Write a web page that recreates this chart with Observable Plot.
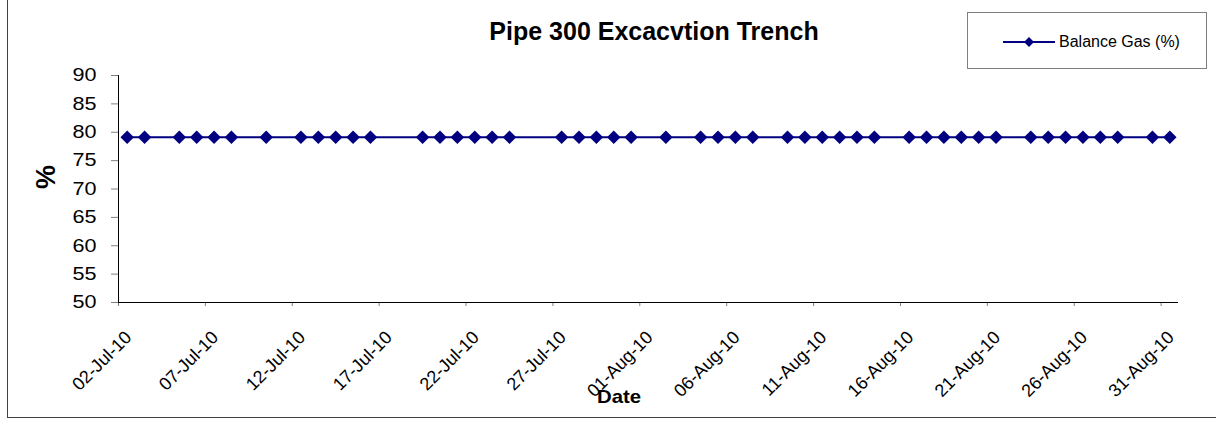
<!DOCTYPE html>
<html>
<head>
<meta charset="utf-8">
<script src="https://cdn.jsdelivr.net/npm/d3@7"></script>
<script src="https://cdn.jsdelivr.net/npm/@observablehq/plot@0.6"></script>
<style>
  html, body { margin: 0; padding: 0; background: #fff; }
  #wrap { position: relative; width: 1216px; height: 429px; overflow: hidden; font-family: "Liberation Sans", Arial, sans-serif; }
  #frame { position: absolute; left: 7px; top: -5px; width: 1230px; height: 423px; border: 1px solid #404040; box-sizing: border-box; }
  #title { position: absolute; left: 654px; top: 16px; transform: translateX(-50%); white-space: nowrap; font-weight: bold; font-size: 25px; line-height: 30px; }
  #legend { position: absolute; left: 967px; top: 12px; width: 240px; height: 57px; border: 1px solid #808080; box-sizing: border-box; background: #fff; }
  #legend svg { position: absolute; left: 34px; top: 20px; }
  #legend span { position: absolute; left: 91px; top: 19px; font-size: 16px; line-height: 20px; white-space: nowrap; }
  #ylab { position: absolute; left: 46px; top: 177px; transform: translate(-50%, -50%) rotate(-90deg); font-weight: bold; font-size: 27px; line-height: 30px; }
  #xlab { position: absolute; left: 619px; top: 386px; transform: translateX(-50%) scaleX(1.07); font-weight: bold; font-size: 19px; line-height: 22px; }
  #chart { position: absolute; left: 0; top: 0; }
  #chart g[aria-label="x-axis tick"], #chart g[aria-label="y-axis tick"] { stroke: #808080; }
  #chart g[aria-label="y-axis tick label"] { font-size: 18px; fill: #000; }
</style>
</head>
<body>
<div id="wrap">
  <div id="frame"></div>
  <div id="chart"></div>
  <div id="title">Pipe 300 Excacvtion Trench</div>
  <div id="legend"></div>
  <div id="ylab">%</div>
  <div id="xlab">Date</div>
</div>
<script>
const dates = [
  "2010-07-02","2010-07-03","2010-07-05","2010-07-06","2010-07-07","2010-07-08","2010-07-10",
  "2010-07-12","2010-07-13","2010-07-14","2010-07-15","2010-07-16","2010-07-19","2010-07-20",
  "2010-07-21","2010-07-22","2010-07-23","2010-07-24","2010-07-27","2010-07-28","2010-07-29",
  "2010-07-30","2010-07-31","2010-08-02","2010-08-04","2010-08-05","2010-08-06","2010-08-07",
  "2010-08-09","2010-08-10","2010-08-11","2010-08-12","2010-08-13","2010-08-14","2010-08-16",
  "2010-08-17","2010-08-18","2010-08-19","2010-08-20","2010-08-21","2010-08-23","2010-08-24",
  "2010-08-25","2010-08-26","2010-08-27","2010-08-28","2010-08-30","2010-08-31"
];
const balanceGas = dates.map(() => 79.1);
const seriesName = "Balance Gas (%)";
const xTicks = ["2010-07-02","2010-07-07","2010-07-12","2010-07-17","2010-07-22","2010-07-27",
  "2010-08-01","2010-08-06","2010-08-11","2010-08-16","2010-08-21","2010-08-26","2010-08-31"];
const yTicks = [50, 55, 60, 65, 70, 75, 80, 85, 90];
const xDomain = ["2010-07-02", "2010-09-01"];

const navy = "#000080";
const parse = s => new Date(s + "T00:00:00Z");
const halfDay = 12 * 3600 * 1000;
const data = dates.map((d, i) => ({ date: new Date(parse(d).getTime() + halfDay), value: balanceGas[i] }));
const tickDates = xTicks.map(parse);
const fmt = d3.utcFormat("%d-%b-%y");

const chart = Plot.plot({
  width: 1216,
  height: 429,
  marginTop: 75,
  marginBottom: 127,
  marginLeft: 118,
  marginRight: 38,
  style: { fontFamily: "Liberation Sans, Arial, sans-serif", background: "transparent", color: "#000" },
  x: { type: "utc", domain: xDomain.map(parse) },
  y: { domain: [50, 90] },
  marks: [
    Plot.axisY({ ticks: yTicks, tickSize: 7, tickPadding: 15, label: null, tickFormat: d => d }),
    Plot.axisX({ ticks: tickDates, tickSize: 4, label: null, tickFormat: () => "" }),
    Plot.text(tickDates, { x: d => d, text: d => fmt(d), frameAnchor: "bottom", rotate: -45, textAnchor: "end", lineAnchor: "top", fontSize: 18, fill: "#000", dx: 5, dy: 27 }),
    Plot.ruleY([50], { stroke: "#000", strokeWidth: 1 }),
    Plot.ruleX([parse(xDomain[0])], { stroke: "#000", strokeWidth: 1 }),
    Plot.line(data, { x: "date", y: "value", stroke: navy, strokeWidth: 2 }),
    Plot.dot(data, { x: "date", y: "value", symbol: "square", rotate: 45, r: 5.4, fill: navy, stroke: null })
  ]
});
document.getElementById("chart").appendChild(chart);
// widen y tick labels horizontally, like the reference rendering
chart.querySelectorAll('g[aria-label="y-axis tick label"] text').forEach(t => {
  const tr = t.getAttribute("transform") || "";
  t.setAttribute("transform", tr + " scale(1.2,1)");
});

// Legend
const leg = document.getElementById("legend");
const ns = "http://www.w3.org/2000/svg";
const lsvg = document.createElementNS(ns, "svg");
lsvg.setAttribute("width", "54"); lsvg.setAttribute("height", "18");
lsvg.innerHTML = `<line x1="1" y1="9" x2="53" y2="9" stroke="${navy}" stroke-width="2"/>
  <path d="M27 4 L32 9 L27 14 L22 9 Z" fill="${navy}"/>`;
leg.appendChild(lsvg);
const sp = document.createElement("span");
sp.textContent = seriesName;
leg.appendChild(sp);
</script>
</body>
</html>
